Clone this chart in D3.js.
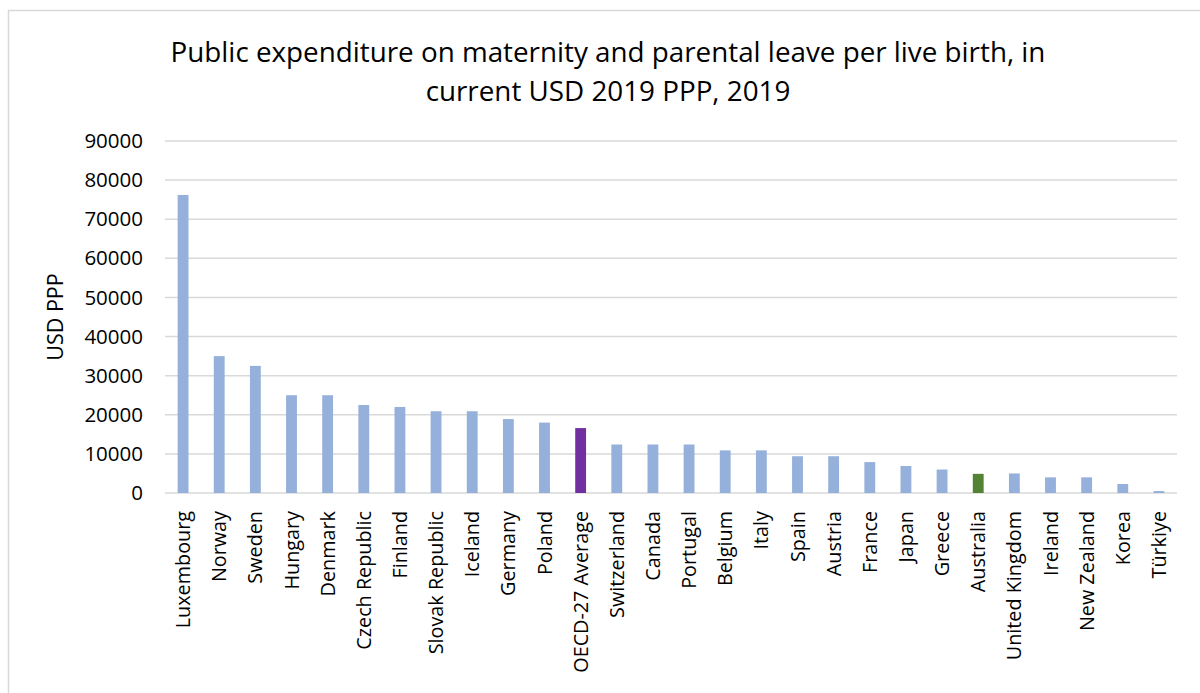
<!DOCTYPE html>
<html><head><meta charset="utf-8">
<script src="https://cdn.jsdelivr.net/npm/d3@7"></script>
<style>
html,body{margin:0;padding:0;background:#fff;}
svg{display:block;}
text{font-family:"Open Sans",sans-serif;fill:#000;}
</style></head>
<body>
<svg id="chart" width="1200" height="693"></svg>
<script>
const categories = ["Luxembourg","Norway","Sweden","Hungary","Denmark","Czech Republic","Finland","Slovak Republic","Iceland","Germany","Poland","OECD-27 Average","Switzerland","Canada","Portugal","Belgium","Italy","Spain","Austria","France","Japan","Greece","Australia","United Kingdom","Ireland","New Zealand","Korea","Türkiye"];
const values = [76200,35000,32500,25000,25000,22500,22000,20900,20900,18900,18000,16600,12400,12400,12400,10900,10900,9400,9400,7900,6900,6000,4900,5000,4000,4000,2300,500];
const yTicks = [0,10000,20000,30000,40000,50000,60000,70000,80000,90000];
const titleLines = ["Public expenditure on maternity and parental leave per live birth, in","current USD 2019 PPP, 2019"];
const yTitle = "USD PPP";
const highlight = {"OECD-27 Average":"#7030A0","Australia":"#548235"};
const baseColor = "#95B0DA";

const svg = d3.select("#chart");
// frame
svg.append("path").attr("d","M8.5,693 L8.5,10.5 L1200,10.5").attr("fill","none").attr("stroke","#D9D9D9").attr("stroke-width",1.5);

const x = d3.scaleBand().domain(categories).range([165,1177]).paddingInner(0.7).paddingOuter(0.35);
const y = d3.scaleLinear().domain([0,90000]).range([493,141]);

// gridlines
svg.append("g").selectAll("line").data(yTicks).join("line")
  .attr("x1",165).attr("x2",1177)
  .attr("y1",d=>y(d)).attr("y2",d=>y(d))
  .attr("stroke","#D9D9D9").attr("stroke-width",1.5);

// y axis
const yAxis = d3.axisLeft(y).tickValues(yTicks).tickSize(0).tickPadding(0).tickFormat(d3.format("d"));
const gy = svg.append("g").attr("transform","translate(143,0)").call(yAxis);
gy.select(".domain").remove();
gy.selectAll("text").style("font-family","'Open Sans',sans-serif").style("font-size","20.5px").attr("fill","#000");

// bars
svg.append("g").selectAll("rect").data(categories).join("rect")
  .attr("x",d=>x(d)).attr("width",x.bandwidth())
  .attr("y",(d,i)=>y(values[i])).attr("height",(d,i)=>y(0)-y(values[i]))
  .attr("fill",d=>highlight[d]||baseColor);

// x axis labels
const xAxis = d3.axisBottom(x).tickSize(0).tickPadding(0);
const gx = svg.append("g").attr("transform","translate(0,511)").call(xAxis);
gx.select(".domain").remove();
gx.selectAll("text")
  .style("font-family","'Open Sans',sans-serif").style("font-size","19.8px").attr("fill","#000")
  .attr("text-anchor","end").attr("transform","rotate(-90)")
  .attr("x",0).attr("y",0).attr("dy","0.36em");

// y title
svg.append("text").attr("transform","translate(63,317) rotate(-90)")
  .attr("text-anchor","middle").style("font-size","21.5px").text(yTitle);

// title
svg.append("g").selectAll("text").data(titleLines).join("text")
  .attr("x",608).attr("y",(d,i)=>62+i*39)
  .attr("text-anchor","middle").style("font-size","27.8px").text(d=>d);
</script>
</body></html>
